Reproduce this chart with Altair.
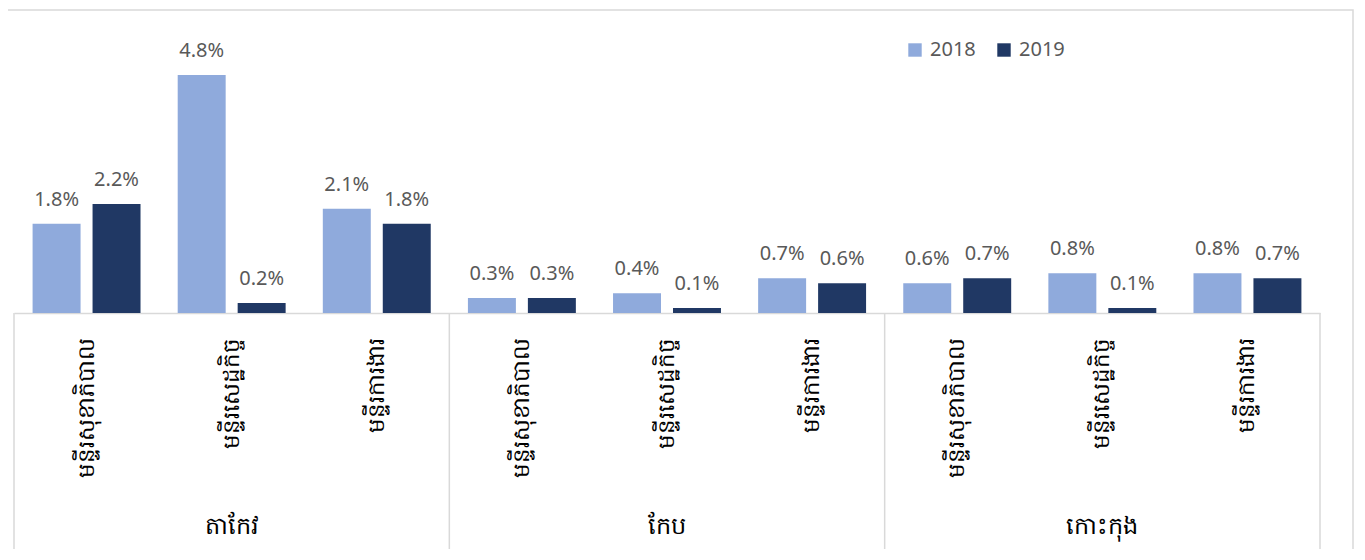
import altair as alt
import pandas as pd

provinces = ["តាកែវ", "កែប", "កោះកុង"]
departments = ["មន្ទីរសុខាភិបាល", "មន្ទីរសេដ្ឋកិច្ច", "មន្ទីរការងារ"]
years = ["2018", "2019"]
values_2018 = [1.8, 4.8, 2.1, 0.3, 0.4, 0.7, 0.6, 0.8, 0.8]
values_2019 = [2.2, 0.2, 1.8, 0.3, 0.1, 0.6, 0.7, 0.1, 0.7]
colors = ["#8FAADC", "#203864"]

keys = [f"{p}|{d}" for p in provinces for d in departments]
rows = []
for k, key in enumerate(keys):
    p, d = key.split("|")
    rows.append(dict(key=key, province=p, dept=d, year="2018", value=values_2018[k]))
    rows.append(dict(key=key, province=p, dept=d, year="2019", value=values_2019[k]))
df = pd.DataFrame(rows)

W, H = 1306, 248
FONT = "Noto Sans"

xscale = alt.Scale(domain=keys, paddingInner=0, paddingOuter=0)
xaxis = alt.Axis(
    title=None, labelAngle=-90, labelExpr="split(datum.label, '|')[1]",
    labelFontSize=23, labelColor="#000000", labelPadding=24, ticks=False,
    domainColor="#d9d9d9", domainWidth=1.5, labelFont=FONT, grid=False,
)


def X(band=0.5):
    return alt.X("key:N", scale=xscale, axis=xaxis, bandPosition=band)


xoff = alt.XOffset("year:N", scale=alt.Scale(domain=years, paddingInner=0.2, paddingOuter=0.31))
yenc = alt.Y("value:Q", scale=alt.Scale(domain=[0, 5], nice=False, zero=True), axis=None)
color = alt.Color(
    "year:N",
    scale=alt.Scale(domain=years, range=colors),
    legend=alt.Legend(
        title=None, orient="none", legendX=891, legendY=-25, direction="horizontal",
        symbolType="square", symbolSize=180, labelFontSize=20, labelColor="#595959",
        labelOffset=5, columnPadding=18, padding=0, symbolStrokeWidth=0, labelFont=FONT,
    ),
)

base = alt.Chart(df).transform_calculate(label="format(datum.value, '.1f') + '%'")

bars = base.mark_bar().encode(x=alt.X("key:N", scale=xscale, axis=xaxis), xOffset=xoff, y=yenc, color=color)
labels = base.mark_text(baseline="alphabetic", dy=-18, fontSize=20, color="#595959", font=FONT).encode(
    x=alt.X("key:N", scale=xscale, axis=xaxis), xOffset=xoff, y=yenc, text="label:N"
)

sep_df = pd.DataFrame({"key": [keys[0], keys[3], keys[6]]})
seps = alt.Chart(sep_df).mark_rule(color="#d9d9d9", strokeWidth=1.5).encode(
    x=X(0), y=alt.value(H), y2=alt.value(H + 240)
)
sepr = alt.Chart(pd.DataFrame({"key": [keys[8]]})).mark_rule(color="#d9d9d9", strokeWidth=1.5).encode(
    x=X(1), y=alt.value(H), y2=alt.value(H + 240)
)

prov_df = pd.DataFrame({"key": [keys[1], keys[4], keys[7]], "province": provinces})
provs = alt.Chart(prov_df).mark_text(fontSize=24, baseline="middle", color="#000000", font=FONT).encode(
    x=X(0.5), y=alt.value(H + 214), text="province:N"
)

frame = alt.Chart(pd.DataFrame({"a": [0]})).mark_rect(
    fillOpacity=0, stroke="#d9d9d9", strokeWidth=1.5
).encode(x=alt.value(-9), x2=alt.value(1339), y=alt.value(-55), y2=alt.value(H + 270))

chart = alt.layer(frame, bars, labels, seps, sepr, provs).properties(
    width=W, height=H,
    autosize=alt.AutoSizeParams(type="none"),
    padding={"left": 6, "top": 57, "right": 36, "bottom": 236},
).configure_view(stroke=None)

chart.save("out.html", embed_options={"renderer": "svg", "actions": False})
